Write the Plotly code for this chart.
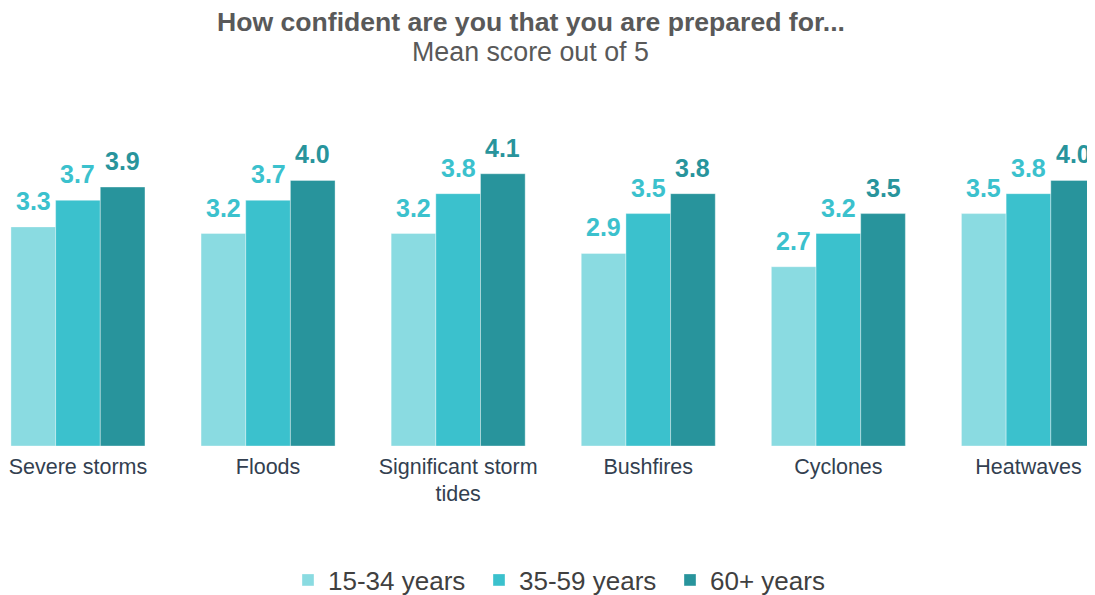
import plotly.graph_objects as go

categories = ["Severe storms", "Floods", "Significant storm<br>tides", "Bushfires", "Cyclones", "Heatwaves"]
series_names = ["15-34 years", "35-59 years", "60+ years"]
vals_15_34 = [3.3, 3.2, 3.2, 2.9, 2.7, 3.5]
vals_35_59 = [3.7, 3.7, 3.8, 3.5, 3.2, 3.8]
vals_60 = [3.9, 4.0, 4.1, 3.8, 3.5, 4.0]

series_values = [vals_15_34, vals_35_59, vals_60]
bar_colors = ["#8ADBE1", "#3BC1CD", "#28949C"]
label_colors = ["#3BC1CD", "#3BC1CD", "#28949C"]
FONT = "Liberation Sans, Arial, sans-serif"

W, H = 1087, 587
PLOT_TOP, PLOT_BOTTOM = 106, 438
PLOT_H = PLOT_BOTTOM - PLOT_TOP

fig = go.Figure()
for name, vals, col in zip(series_names, series_values, bar_colors):
    fig.add_trace(go.Bar(
        x=categories, y=vals, name=name,
        marker=dict(color=col, line=dict(width=0.6, color="rgba(255,255,255,0.6)")),
        hoverinfo="x+y+name",
    ))

bar_px = 0.705 * 190.1 / 3
annotations = []
for i, (vals, lc) in enumerate(zip(series_values, label_colors)):
    for c, v in zip(categories, vals):
        annotations.append(dict(
            x=c, y=v, xref="x", yref="y", text=f"<b>{v:.1f}</b>",
            showarrow=False, yanchor="bottom", xanchor="center",
            xshift=(i - 1) * bar_px, yshift=10,
            font=dict(family=FONT, size=25, color=lc),
        ))

annotations.append(dict(
    x=522.5 / W, y=(PLOT_BOTTOM - 44) / PLOT_H, xref="paper", yref="paper",
    text="Mean score out of 5", showarrow=False,
    xanchor="center", yanchor="middle",
    font=dict(family=FONT, size=26.8, color="#595959"),
))

fig.update_layout(
    width=W, height=H,
    margin=dict(l=0, r=0, t=PLOT_TOP, b=H - PLOT_BOTTOM, autoexpand=False),
    paper_bgcolor="white", plot_bgcolor="white",
    font=dict(family=FONT),
    barmode="group", bargap=0.295, bargroupgap=0,
    title=dict(
        text="<b>How confident are you that you are prepared for...</b>",
        x=523 / W, xanchor="center", y=1 - 13.5 / H, yanchor="middle",
        font=dict(family=FONT, size=26.6, color="#595959"),
    ),
    xaxis=dict(
        range=[-0.368, 5.35], showgrid=False, showline=False, zeroline=False,
        tickfont=dict(family=FONT, size=21.5, color="#333F50"),
        ticks="", fixedrange=True, automargin=False, ticklabelstandoff=5,
    ),
    yaxis=dict(range=[0, 5], visible=False, fixedrange=True, automargin=False),
    legend=dict(
        orientation="h", x=280 / W, xanchor="left", y=(PLOT_BOTTOM - 572) / PLOT_H, yanchor="middle",
        font=dict(family=FONT, size=26, color="#404040"),
        itemwidth=30, traceorder="normal", entrywidth=146, entrywidthmode="pixels",
    ),
    annotations=annotations,
    showlegend=True,
)

fig.write_html("out.html")
